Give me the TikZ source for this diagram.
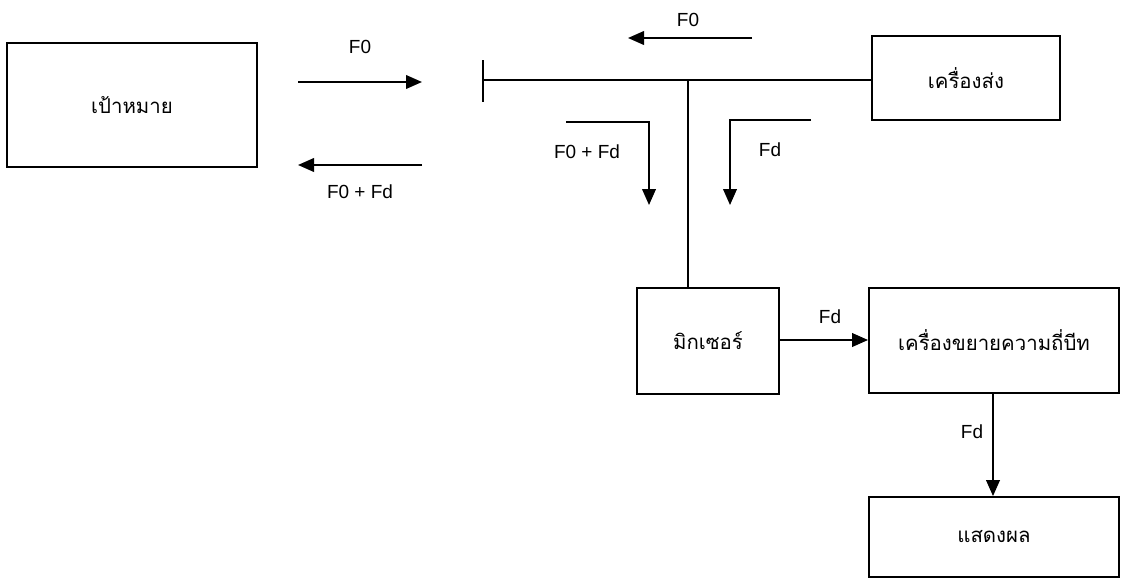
\documentclass[tikz,border=0pt]{standalone}
\usepackage{fontspec}
\setmainfont{Liberation Sans}
\newfontfamily\thaifont[Script=Thai]{Loma}
\usetikzlibrary{arrows.meta,positioning}
\tikzset{
  box/.style={draw, line width=1.3pt, rectangle, font=\thaifont\fontsize{14.5}{17}\selectfont},
  sig/.style={-{Triangle[length=4mm,width=3.4mm]}, line width=1.4pt},
  lbl/.style={font=\fontsize{13.5}{16}\selectfont, inner sep=1pt}
}
\begin{document}
\begin{tikzpicture}[x=0.025cm, y=-0.025cm]
    \useasboundingbox (0,0) rectangle (1128,579);
    % Blocks
    \node [box, minimum width=6.25cm, minimum height=3.1cm] (target) at (132,105) {เป้าหมาย};
    \node [box, minimum width=4.7cm, minimum height=2.1cm] (tx) at (966,78) {เครื่องส่ง};
    \node [box, minimum width=3.55cm, minimum height=2.65cm] (mixer) at (708,341) {มิกเซอร์};
    \node [box, minimum width=6.25cm, minimum height=2.625cm] (amp) at (994,340.5) {เครื่องขยายความถี่บีท};
    \node [box, minimum width=6.25cm, minimum height=2.0cm] (disp) at (994,537) {แสดงผล};
    % Coordinate
    \coordinate (ant) at (483,80);
    \coordinate (junc) at (688,80);
    % Linee
    \draw [line width=1.3pt] (483,60) -- (483,102); % antenna
    \draw [line width=1.3pt] (ant) -- (ant -| tx.west);
    \draw [line width=1.3pt] (junc) -- (junc |- mixer.north);
    \draw [sig] (mixer.east |- 0,340) -- (amp.west |- 0,340);
    \draw [sig] (amp.south -| 993,0) -- (disp.north -| 993,0);
    % Signals
    \draw [sig] (298,82) -- (422,82);
    \draw [sig] (422,165) -- (298,165);
    \draw [sig] (752,38) -- (628,38);
    \draw [sig] (566,122) -- (649,122) -- (649,205);
    \draw [sig] (811,120) -- (730,120) -- (730,205);
    % Writing space
    \node [lbl] (l1) at (360,47) {F0};
    \node [lbl] (l2) at (360,192) {F0 + Fd};
    \node [lbl] (l3) at (688,20) {F0};
    \node [lbl] (l4) at (587,152) {F0 + Fd};
    \node [lbl] (l5) at (770,150) {Fd};
    \node [lbl] (l6) at (830,317) {Fd};
    \node [lbl] (l7) at (972,432) {Fd};
\end{tikzpicture}
\end{document}
